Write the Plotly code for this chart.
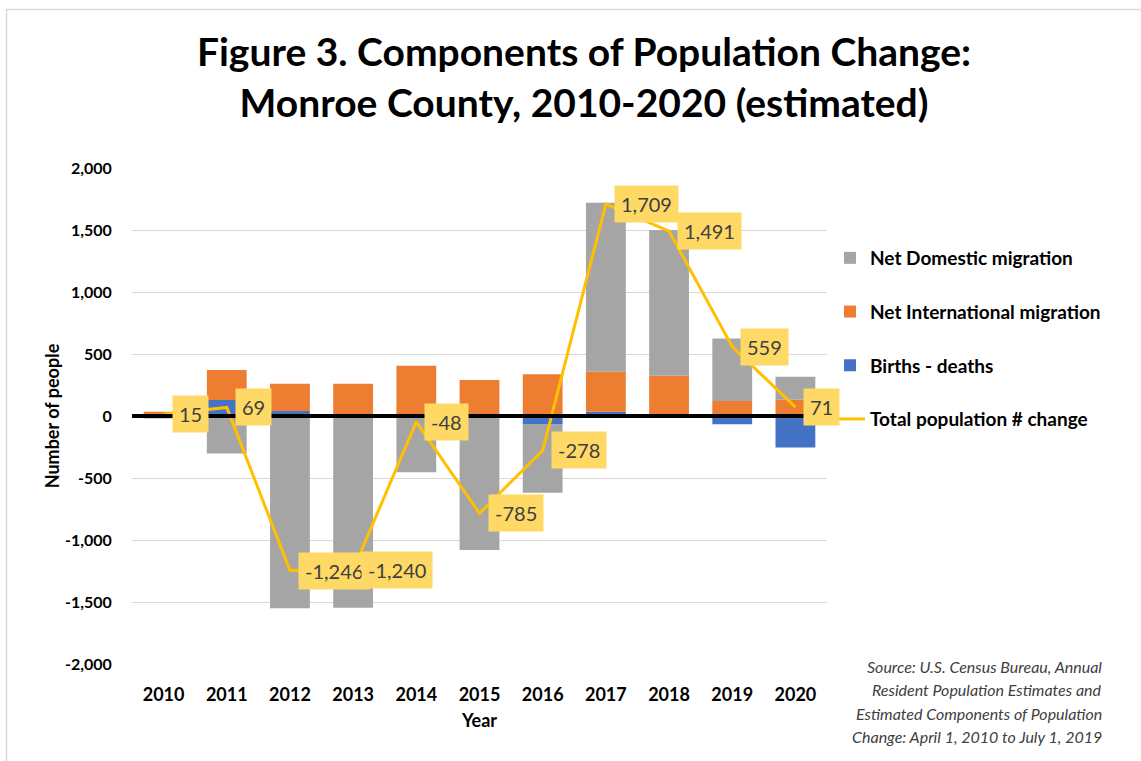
import plotly.graph_objects as go

years = ["2010", "2011", "2012", "2013", "2014", "2015", "2016", "2017", "2018", "2019", "2020"]
births_deaths = [5, 129, 40, 0, 0, 0, -65, 35, 0, -67, -255]
net_international = [30, 242, 220, 260, 406, 290, 336, 322, 325, 121, 132]
net_domestic = [-20, -302, -1550, -1546, -454, -1081, -553, 1363, 1175, 505, 185]
total_change = [15, 69, -1246, -1240, -48, -785, -278, 1709, 1491, 559, 71]

y_tick_vals = [-2000, -1500, -1000, -500, 0, 500, 1000, 1500, 2000]
y_tick_text = ["-2,000", "-1,500", "-1,000", "-500", "0", "500", "1,000", "1,500", "2,000"]

source_lines = [
    "Source: U.S. Census Bureau, Annual",
    "Resident Population Estimates and",
    "Estimated Components of Population",
    "Change: April 1, 2010 to July 1, 2019",
]

FONT = "Lato"
W, H = 1141, 761
L, R, T, B = 132, 827, 168, 664

fig = go.Figure()
fig.add_trace(go.Bar(x=years, y=births_deaths, name="Births - deaths",
                     marker=dict(color="#4472C4", line=dict(width=0)),
                     legendgroup="c", legendrank=3))
fig.add_trace(go.Bar(x=years, y=net_international, name="Net International migration",
                     marker=dict(color="#ED7D31", line=dict(width=0)),
                     legendgroup="b", legendrank=2))
fig.add_trace(go.Bar(x=years, y=net_domestic, name="Net Domestic migration",
                     marker=dict(color="#A5A5A5", line=dict(width=0)),
                     legendgroup="a", legendrank=1))
fig.add_trace(go.Scatter(x=years, y=total_change, name="Total population # change",
                         mode="lines", line=dict(color="#FFC000", width=3),
                         legendgroup="d", legendrank=4))

annotations = []
for i, v in enumerate(total_change):
    annotations.append(dict(
        x=i, y=v, xref="x", yref="y", text=f"{v:,}", showarrow=False,
        xanchor="left", yanchor="middle", xshift=8,
        bgcolor="#FFD966", borderpad=6,
        font=dict(family=FONT, size=20, color="#404040"),
    ))

pw, ph = R - L, B - T
def px_x(p):
    return (p - L) / pw
def px_y(p):
    return (B - p) / ph

for i, line in enumerate(source_lines):
    annotations.append(dict(
        x=px_x(1104), y=px_y(666 + i * 23.5), xref="paper", yref="paper",
        text=line, showarrow=False, xanchor="right", yanchor="middle",
        font=dict(family=FONT, size=16, color="#404040", style="italic"),
    ))

shapes = [
    dict(type="line", xref="paper", yref="y", x0=0, x1=1, y0=0, y1=0,
         line=dict(color="black", width=4), layer="above"),
    dict(type="path", xref="paper", yref="paper",
         path=f"M {px_x(6.5)} {px_y(770)} L {px_x(6.5)} {px_y(9.5)} L {px_x(1150)} {px_y(9.5)}",
         line=dict(color="#D9D9D9", width=1.5)),
]

fig.update_layout(
    width=W, height=H,
    margin=dict(l=L, r=W - R, t=T, b=H - B, pad=0),
    paper_bgcolor="white", plot_bgcolor="white",
    barmode="relative", bargap=0.37,
    font=dict(family=FONT, color="#000000"),
    title=dict(
        text="<b>Figure 3. Components of Population Change:<br>Monroe County, 2010-2020 (estimated)</b>",
        x=584 / W, xanchor="center", y=1 - 66 / H, yanchor="top", yref="container",
        font=dict(family=FONT, size=39, color="#000000"),
    ),
    xaxis=dict(
        type="category", range=[-0.5, len(years) - 0.5],
        showgrid=False, showline=False, zeroline=False,
        ticks="outside", ticklen=14, tickcolor="rgba(0,0,0,0)",
        tickfont=dict(family=FONT, size=18, color="#000000", weight="bold"),
        title=dict(text="<b>Year</b>", font=dict(family=FONT, size=18, color="#000000"), standoff=10),
    ),
    yaxis=dict(
        range=[-2000, 2000], tickvals=y_tick_vals, ticktext=y_tick_text,
        showgrid=True, gridcolor="#D9D9D9", gridwidth=1, zeroline=False, showline=False,
        ticks="outside", ticklen=16, tickcolor="rgba(0,0,0,0)",
        tickfont=dict(family=FONT, size=16, color="#000000", weight="bold"),
        title=dict(text="<b>Number of people</b>", font=dict(family=FONT, size=18, color="#000000"), standoff=0),
    ),
    legend=dict(
        x=px_x(830), y=px_y(239), xanchor="left", yanchor="top",
        traceorder="grouped", tracegroupgap=26,
        font=dict(family=FONT, size=19, color="#000000", weight="bold"),
        bgcolor="rgba(0,0,0,0)",
    ),
    annotations=annotations,
    shapes=shapes,
)

fig.write_html("out.html")
